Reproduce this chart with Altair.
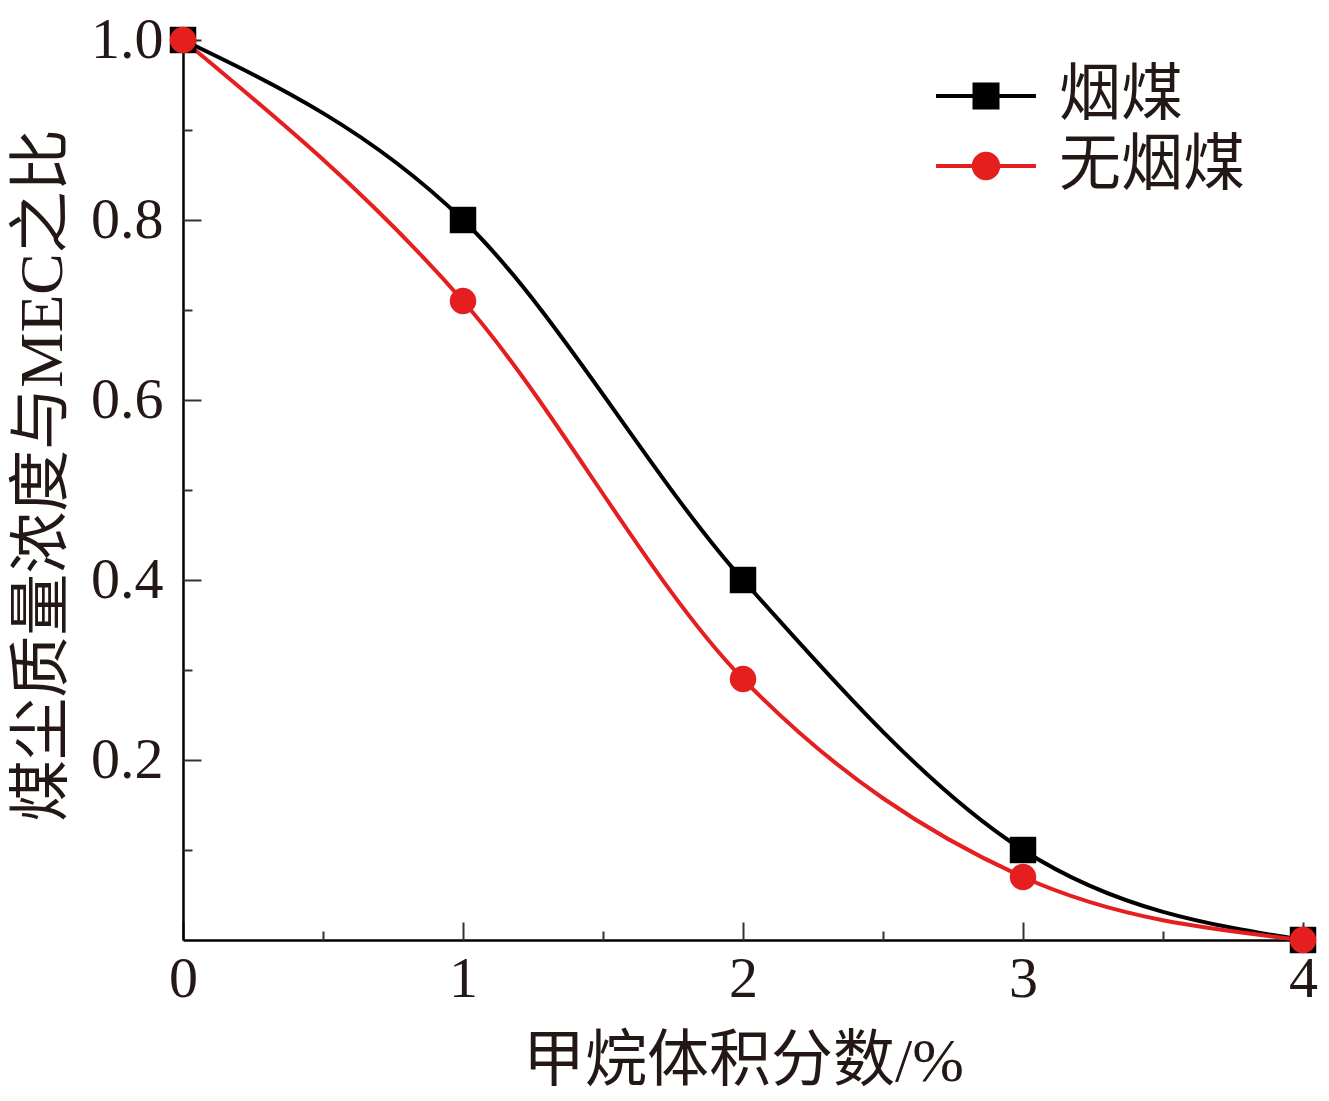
import altair as alt
import pandas as pd

x_vals = [0, 1, 2, 3, 4]
bituminous = [1.0, 0.80, 0.40, 0.10, 0.0]
anthracite = [1.0, 0.71, 0.29, 0.07, 0.0]
series_names = ["烟煤", "无烟煤"]
series_colors = ["#000000", "#e51f1f"]

x_major = [0, 1, 2, 3, 4]
x_minor = [0.5, 1.5, 2.5, 3.5]
y_major = [0, 0.2, 0.4, 0.6, 0.8, 1.0]
y_minor = [0.1, 0.3, 0.5, 0.7, 0.9]

rows = []
for xv, v in zip(x_vals, bituminous):
    rows.append({"x": xv, "y": v, "series": series_names[0], "order": 1})
for xv, v in zip(x_vals, anthracite):
    rows.append({"x": xv, "y": v, "series": series_names[1], "order": 0})
df = pd.DataFrame(rows)

W, H = 1120, 900
FONT = "Liberation Serif, Noto Sans CJK SC"
TXT = "#231815"

xs = alt.Scale(domain=[0, 4], nice=False, zero=False)
ys = alt.Scale(domain=[0, 1], nice=False, zero=False)
cs = alt.Scale(domain=series_names, range=series_colors)

x_main_axis = alt.Axis(values=x_major, format="d", tickSize=0, labelPadding=10,
                       labelFlush=False, labelOverlap=False,
                       labelFontSize=58, labelFont=FONT, labelColor=TXT,
                       domainColor="#000000", domainWidth=2.5, grid=False,
                       title="甲烷体积分数/%", titleFont=FONT, titleFontSize=62,
                       titleFontWeight="normal", titleColor=TXT, titlePadding=23)
y_main_axis = alt.Axis(values=y_major, tickSize=0, labelPadding=20,
                       labelFlush=False, labelOverlap=False,
                       labelExpr="datum.value == 0 ? '' : format(datum.value, '.1f')",
                       labelFontSize=58, labelFont=FONT, labelColor=TXT,
                       domainColor="#000000", domainWidth=2.5, grid=False,
                       title="煤尘质量浓度与MEC之比", titleFont=FONT, titleFontSize=62,
                       titleFontWeight="normal", titleColor=TXT, titlePadding=16,
                       titleY=435)

base = alt.Chart(df)
line = base.mark_line(interpolate="monotone", strokeWidth=4).encode(
    x=alt.X("x:Q", scale=xs, axis=x_main_axis),
    y=alt.Y("y:Q", scale=ys, axis=y_main_axis),
    color=alt.Color("series:N", scale=cs, legend=None),
    order=alt.Order("order:Q"),
)
points = base.mark_point(filled=True, opacity=1, size=700).encode(
    x=alt.X("x:Q", scale=xs),
    y=alt.Y("y:Q", scale=ys),
    color=alt.Color("series:N", scale=cs, legend=None),
    shape=alt.Shape("series:N", scale=alt.Scale(domain=series_names, range=["square", "circle"]), legend=None),
)
main = alt.layer(line, points)


def tick_layer(xv, yv, size):
    return base.mark_point(opacity=0).encode(
        x=alt.X("x:Q", scale=xs, axis=alt.Axis(orient="top", offset=-H, values=xv, tickSize=size,
                                                tickWidth=2, tickColor="#333333", labels=False,
                                                domain=False, grid=False, title=None)),
        y=alt.Y("y:Q", scale=ys, axis=alt.Axis(orient="right", offset=-W, values=yv, tickSize=size,
                                                tickWidth=2, tickColor="#333333", labels=False,
                                                domain=False, grid=False, title=None)),
    )


major = tick_layer(x_major, [0.2, 0.4, 0.6, 0.8, 1.0], 18)
minor = tick_layer(x_minor, y_minor, 9)

sq_path = "M-3.33,-0.13H3.33V0.13H-3.33Z M-0.9,-0.9H0.9V0.9H-0.9Z"
ci_path = "M-3.33,-0.13H3.33V0.13H-3.33Z M-0.95,0A0.95,0.95 0 1,1 0.95,0A0.95,0.95 0 1,1 -0.95,0Z"

legend_cfg = dict(title=None, orient="none", legendX=772, legendY=25,
                  symbolSize=900, symbolStrokeWidth=0, labelOffset=42, labelLimit=400,
                  labelFont=FONT, labelFontSize=62, labelColor=TXT,
                  rowPadding=8, padding=0, symbolOpacity=1)

legend_layer = base.transform_filter("false").mark_point(filled=True, opacity=1).encode(
    color=alt.Color("series:N", scale=alt.Scale(domain=series_names, range=series_colors),
                    legend=alt.Legend(**legend_cfg)),
    shape=alt.Shape("series:N", scale=alt.Scale(domain=series_names, range=[sq_path, ci_path]),
                    legend=alt.Legend(**legend_cfg)),
)

chart = alt.layer(main, major, minor, legend_layer).resolve_scale(
    x="independent", y="independent", shape="independent", color="independent"
).properties(
    width=W, height=H,
    background="white",
    autosize=alt.AutoSizeParams(type="none"),
    padding={"left": 175, "top": 32, "right": 18, "bottom": 153},
).configure_view(strokeOpacity=0, strokeWidth=0)

chart.save("out.html", embed_options={"renderer": "svg", "actions": False})
